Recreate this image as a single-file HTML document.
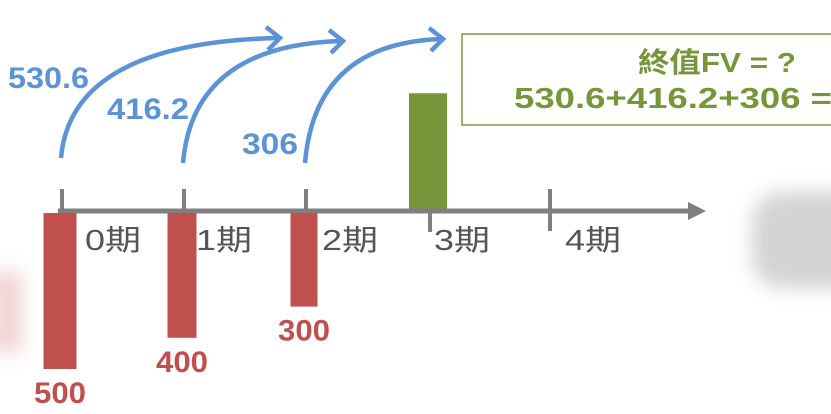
<!DOCTYPE html>
<html><head><meta charset="utf-8"><style>
html,body{margin:0;padding:0;background:#fff;}
body{width:831px;height:414px;overflow:hidden;position:relative;font-family:"Liberation Sans","Noto Sans CJK TC",sans-serif;}
.blur{position:absolute;filter:blur(9px);}
</style></head><body>
<div class="blur" style="left:752px;top:192px;width:110px;height:96px;background:#d4d4d4;border-radius:30px 0 0 30px;"></div>
<div class="blur" style="left:-10px;top:272px;width:32px;height:80px;background:#f2d4d4;"></div>
<svg id="chart" width="831" height="414" style="position:absolute;left:0;top:0">
<rect x="462" y="34" width="380" height="91" fill="#fff" stroke="#7a9a3a" stroke-width="1.5"/>
<text x="638" y="72" font-size="28" font-weight="bold" fill="#76963a" textLength="158" lengthAdjust="spacingAndGlyphs">終值FV = ?</text>
<text x="514" y="108" font-size="29" font-weight="bold" fill="#76963a" textLength="318" lengthAdjust="spacingAndGlyphs">530.6+416.2+306 =</text>
</svg>
<script>
const periods=['0期','1期','2期','3期','4期'];
const outflows=[500,400,300];
const compounded=['530.6','416.2','306'];
const fvValue=1252.8;
const NS='http://www.w3.org/2000/svg';
const svg=document.getElementById('chart');
const axisY=211;
const xOf=i=>62+i*122;
const hOut=v=>v*0.312;
const hFV=v=>v*0.094;
function el(t,a){const e=document.createElementNS(NS,t);for(const k in a)e.setAttribute(k,a[k]);svg.appendChild(e);return e;}
let g=el('rect',{x:xOf(3)-19,y:axisY-hFV(fvValue),width:38,height:hFV(fvValue),fill:'#76963a'});


let ax=el('line',{x1:58,y1:axisY,x2:692,y2:axisY,stroke:'#7f7f7f','stroke-width':5});


let ah=el('path',{d:'M688 202 L706 211 L688 220 Z',fill:'#7f7f7f'});


const lblOff=[23,12,16,4,15];
periods.forEach((p,i)=>{
  const x=xOf(i)+(i===3?2:0);
  const t=el('line',{x1:x,y1:i===3?axisY:189,y2:i===3?232:(i===0?235:231),x2:x,stroke:'#7f7f7f','stroke-width':4});
  
  
  const l=el('text',{x:x+lblOff[i],y:250,'font-size':29,fill:'#555',textLength:56,lengthAdjust:'spacingAndGlyphs'});
  l.textContent=p;
  
  
});
const barW=[33,29,27];
outflows.forEach((v,i)=>{
  const x=xOf(i)-2;
  const r=el('rect',{x:x-barW[i]/2,y:213,width:barW[i],height:hOut(v),fill:'#c0504d'});
  
  
  const t=el('text',{x:x,y:213+hOut(v)+34,'font-size':30,'font-weight':'bold',fill:'#c0504d','text-anchor':'middle',textLength:52,lengthAdjust:'spacingAndGlyphs'});
  t.textContent=v;
  
  
});
const arcEnd=[[280,38],[343,41],[443,39]];
const arcLbl=[[8,88],[107,119],[242,154]];
const lblW=[81,82,56];
compounded.forEach((c,i)=>{
  const x0=xOf(i)-1,y0=i===0?158:163;
  const [x1,y1]=arcEnd[i];
  const p=el('path',{d:`M${x0} ${y0} Q${x0+10} ${y1+5} ${x1-3} ${y1}`,fill:'none',stroke:'#5b93d6','stroke-width':4.5});
  
  
  const a=el('path',{d:`M${x1-14} ${y1-11} L${x1} ${y1} L${x1-12} ${y1+12}`,fill:'none',stroke:'#5b93d6','stroke-width':4.5});
  
  
  const t=el('text',{x:arcLbl[i][0],y:arcLbl[i][1],'font-size':30,'font-weight':'bold',fill:'#5b93d6',textLength:lblW[i],lengthAdjust:'spacingAndGlyphs'});
  t.textContent=c;
  
  
});
</script>
</body></html>
